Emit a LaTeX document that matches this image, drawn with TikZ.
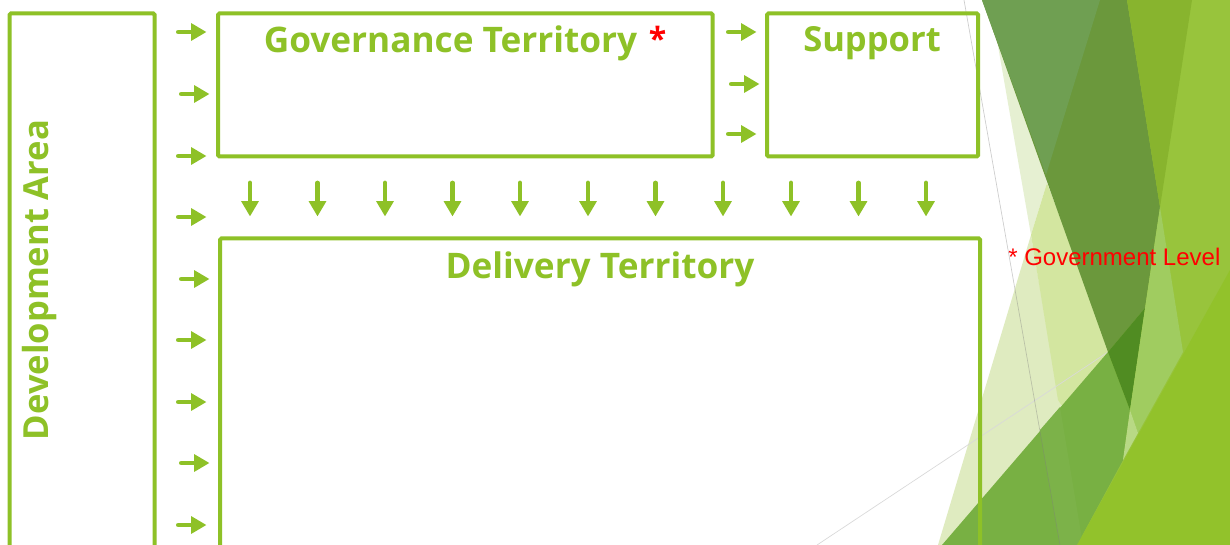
\documentclass[tikz,border=0pt]{standalone}
\usepackage{fontspec}
\setmainfont{Open Sans}
\newfontfamily\arialfont{Liberation Sans}
\usetikzlibrary{arrows.meta}
\definecolor{lime}{HTML}{8EC127}
\definecolor{redmark}{HTML}{FF0000}
\tikzset{
  box/.style={draw=lime,line width=3pt,rounded corners=1pt,fill=none,inner sep=0pt,outer sep=0pt,anchor=north west},
  title/.style={text=lime,font=\fontsize{26.4}{30}\selectfont\bfseries,inner sep=0pt},
  shorttitle/.style={title,font=\fontsize{25.9}{30}\selectfont\bfseries},
  starmark/.style={title,text=redmark,font=\fontsize{24}{30}\selectfont\bfseries},
  blockarrow/.style={draw=lime,line width=3.6pt,line cap=round,-{Triangle[length=11.5pt,width=12.5pt,fill=lime]}},
  facet/.style={draw=none},
  hairline/.style={line width=0.5pt}
}
\begin{document}
\begin{tikzpicture}[x=0.75pt,y=-0.75pt]
\useasboundingbox (0,0) rectangle (1230,545);
\clip (0,0) rectangle (1230,545);
\fill[white] (0,0) rectangle (1230,545);
% background facets
\fill[facet,fill={rgb,255:red,230;green,240;blue,210}] (990,0) -- (1047,183) -- (1031,235) -- cycle;
\fill[facet,fill={rgb,255:red,223;green,235;blue,192}] (1031,235) -- (938,545) -- (1000,545) -- (1070,430) -- (1058,395) -- cycle;
\fill[facet,fill={rgb,255:red,211;green,230;blue,160}] (1047,183) -- (1031,235) -- (1058,400) -- (1066,412) -- (1115,360) -- cycle;
\draw[hairline,color={rgb,255:red,217;green,217;blue,217}] (817,545) -- (1108,352);
\fill[facet,fill={rgb,255:red,152;green,196;blue,60}] (1100,0) -- (1230,0) -- (1230,545) -- (1077,545) -- (1108,352) -- cycle;
\fill[facet,fill={rgb,255:red,120;green,176;blue,67}] (942,545) -- (1108,352) -- (1130,410) -- (1123,460) -- (1077,545) -- cycle;
\fill[facet,fill={rgb,255:red,124;green,178;blue,73}] (1040,430) -- (1060,407) -- (1083,545) -- (1060,545) -- cycle;
\fill[facet,fill={rgb,255:red,107;green,152;blue,60}] (982,0) -- (1127,0) -- (1160,207) -- (1145,308) -- (1108,352) -- cycle;
\fill[facet,fill={rgb,255:red,111;green,159;blue,82}] (982,0) -- (1100,0) -- (1046,175) -- cycle;
\fill[facet,fill={rgb,255:red,80;green,140;blue,34}] (1108,352) -- (1145,308) -- (1130,410) -- cycle;
\fill[facet,fill={rgb,255:red,136;green,180;blue,46}] (1127,0) -- (1192,0) -- (1160,207) -- cycle;
\fill[facet,fill={rgb,255:red,160;green,204;blue,96}] (1160,207) -- (1183,352) -- (1138,433) -- (1130,410) -- cycle;
\fill[facet,fill={rgb,255:red,184;green,217;blue,133}] (1130,410) -- (1138,433) -- (1123,460) -- cycle;
\fill[facet,fill={rgb,255:red,146;green,194;blue,43}] (1230,270) -- (1077,545) -- (1230,545) -- cycle;
\draw[hairline,color=gray,opacity=.4] (964,0) -- (1060,545);
% boxes
\node[box,minimum width=108.75pt,minimum height=450pt] (dev) at (9.5,13.5) {};
\node[box,minimum width=370.9pt,minimum height=107.25pt] (gov) at (218,13.5) {};
\node[box,minimum width=158.25pt,minimum height=107.25pt] (sup) at (767,13.5) {};
\node[box,minimum width=570pt,minimum height=300pt] (del) at (220,238.5) {};
% titles
\node[shorttitle,rotate=90] (devt) at (40,280) {Development Area};
\node[title] (govt) at (450.5,43.5) {Governance Territory};
\node[starmark] (star) at (657.5,38.5) {*};
\node[shorttitle] (supt) at (872,43.5) {Support};
\node[title] (delt) at (600,269.5) {Delivery Territory};
\node[text=redmark,font=\arialfont\fontsize{18}{20}\selectfont,inner sep=0pt,anchor=west] (lvl) at (1008,257) {* Government Level};
% left column arrows
\foreach \n/\xx/\yy in {1/176/32,2/179/94,3/176/156,4/176/217,5/179/279,6/176/340,7/176/402,8/179/463,9/176/525}{
  \coordinate (l\n s) at (\xx+2.4,\yy);
  \coordinate (l\n e) at (\xx+30.5,\yy);
  \draw[blockarrow] (l\n s) -- (l\n e);
}
% arrows into Support
\foreach \n/\xx/\yy in {1/726/32,2/729/84,3/726/134}{
  \coordinate (m\n s) at (\xx+2.4,\yy);
  \coordinate (m\n e) at (\xx+30.5,\yy);
  \draw[blockarrow] (m\n s) -- (m\n e);
}
% downward arrows
\foreach \n/\xx in {1/250,2/317.5,3/385,4/452.5,5/520,6/588,7/655.5,8/723,9/791,10/858.5,11/926}{
  \coordinate (d\n s) at (\xx,183);
  \coordinate (d\n e) at (\xx,216.5);
  \draw[blockarrow] (d\n s) -- (d\n e);
}
\end{tikzpicture}
\end{document}
